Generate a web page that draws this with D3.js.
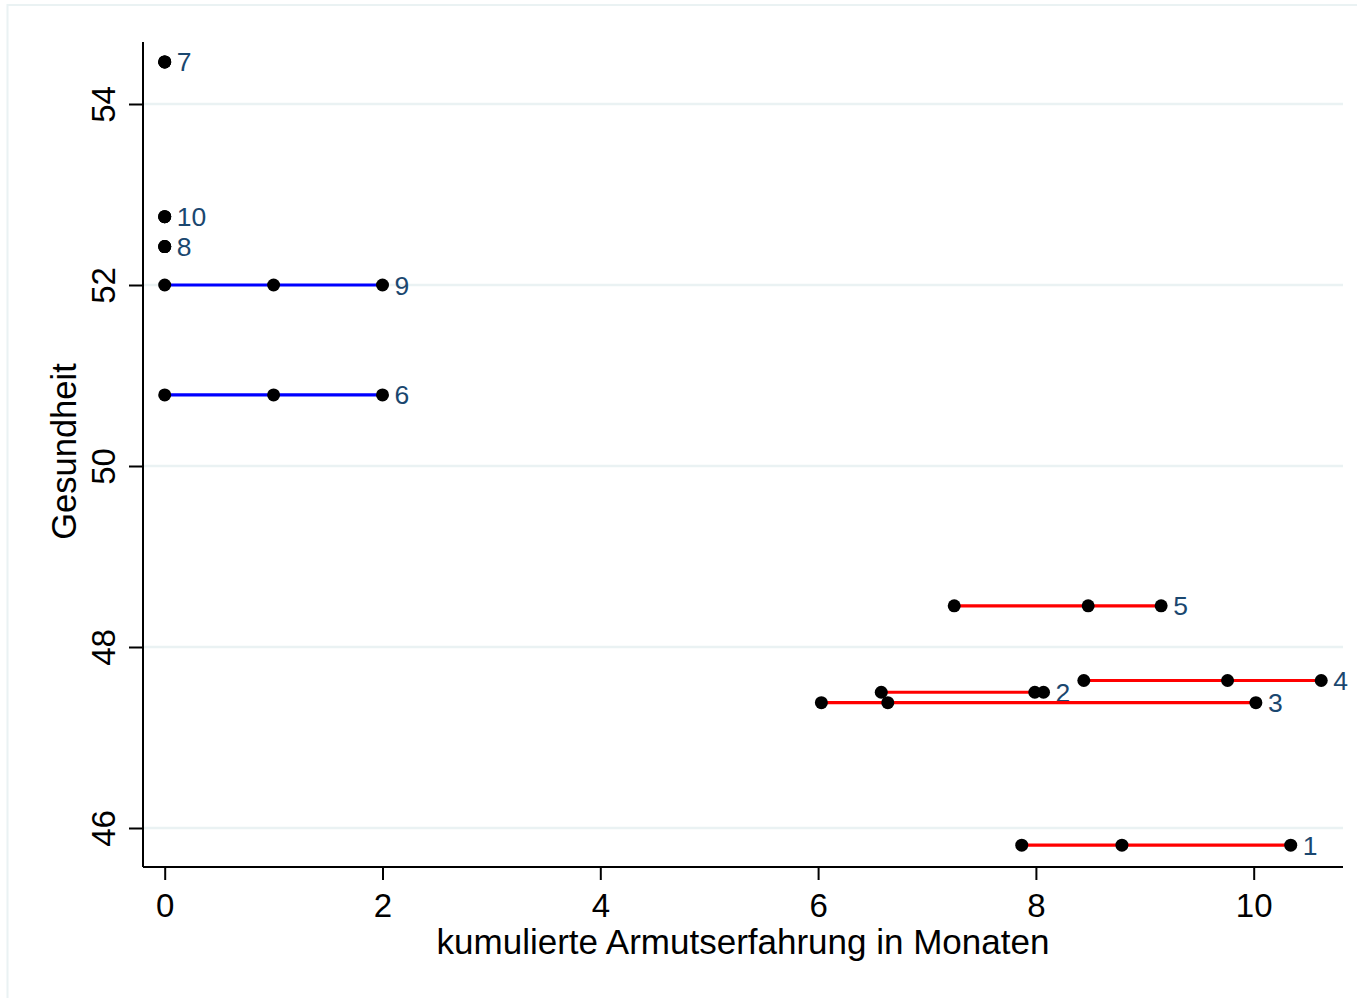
<!DOCTYPE html>
<html>
<head>
<meta charset="utf-8">
<script src="https://cdn.jsdelivr.net/npm/d3@7"></script>
<style>
  html, body { margin: 0; padding: 0; background: #fff; }
  svg { display: block; font-family: "Liberation Sans", Arial, sans-serif; }
</style>
</head>
<body>
<svg id="chart" width="1357" height="998"></svg>
<script>
// ---- data ----
const persons = [1, 2, 3, 4, 5, 6, 7, 8, 9, 10];
const health = [45.81, 47.50, 47.385, 47.63, 48.455, 50.785, 54.465, 52.425, 52.0, 52.755];
const months = [
  [7.87, 8.79, 10.34],
  [6.58, 7.99, 8.07],
  [6.03, 6.64, 10.02],
  [8.44, 9.76, 10.62],
  [7.25, 8.48, 9.15],
  [0, 1, 2],
  [0, 0, 0],
  [0, 0, 0],
  [0, 1, 2],
  [0, 0, 0]
];
const group = ["arm", "arm", "arm", "arm", "arm", "nicht", "nicht", "nicht", "nicht", "nicht"];
const xTicks = [0, 2, 4, 6, 8, 10];
const yTicks = [46, 48, 50, 52, 54];
const xTitle = "kumulierte Armutserfahrung in Monaten";
const yTitle = "Gesundheit";

// ---- layout ----
const svg = d3.select("#chart");
const plot = { left: 143, right: 1343, top: 42, bottom: 867 };
const x = d3.scaleLinear().domain([0, 10]).range([164.7, 1253.7]);
const y = d3.scaleLinear().domain([46, 54]).range([828, 104]);
const colors = { arm: "#FF0000", nicht: "#0000FF" };
const labelColor = "#1a476f";
const gridColor = "#EAF2F3";

// outer graph region frame
svg.append("rect")
  .attr("x", 7.5).attr("y", 5).attr("width", 1420).attr("height", 1020)
  .attr("fill", "none").attr("stroke", gridColor).attr("stroke-width", 2);

// gridlines
svg.append("g").selectAll("line").data(yTicks).join("line")
  .attr("x1", plot.left).attr("x2", plot.right)
  .attr("y1", d => y(d)).attr("y2", d => y(d))
  .attr("stroke", gridColor).attr("stroke-width", 2.5);

// x axis
const xAxis = svg.append("g").attr("transform", `translate(0,${plot.bottom})`)
  .call(d3.axisBottom(x).tickValues(xTicks).tickSize(13).tickPadding(14).tickFormat(d3.format("d")));
xAxis.select(".domain").remove();
xAxis.append("line").attr("x1", plot.left).attr("x2", plot.right)
  .attr("stroke", "#000").attr("stroke-width", 2);
xAxis.selectAll(".tick line").attr("stroke", "#000").attr("stroke-width", 2);
xAxis.selectAll(".tick text").attr("font-size", 33).attr("fill", "#000")
  .attr("font-family", '"Liberation Sans", Arial, sans-serif');

// y axis
const yAxis = svg.append("g").attr("transform", `translate(${plot.left},0)`)
  .call(d3.axisLeft(y).tickValues(yTicks).tickSize(14).tickFormat(d3.format("d")));
yAxis.select(".domain").remove();
yAxis.append("line").attr("y1", plot.top).attr("y2", plot.bottom)
  .attr("stroke", "#000").attr("stroke-width", 2);
yAxis.selectAll(".tick line").attr("stroke", "#000").attr("stroke-width", 2);
yAxis.selectAll(".tick text")
  .attr("x", null).attr("dy", null)
  .attr("transform", "translate(-28,0) rotate(-90)")
  .attr("text-anchor", "middle")
  .attr("font-size", 33).attr("fill", "#000")
  .attr("font-family", '"Liberation Sans", Arial, sans-serif');

// axis titles
svg.append("text")
  .attr("x", (plot.left + plot.right) / 2).attr("y", 954)
  .attr("text-anchor", "middle").attr("font-size", 35).attr("fill", "#000")
  .text(xTitle);
svg.append("text")
  .attr("transform", `translate(76,${451.5}) rotate(-90)`)
  .attr("text-anchor", "middle").attr("font-size", 34.5).attr("fill", "#000")
  .text(yTitle);

// series
const rows = persons.map((p, i) => ({ p, h: health[i], m: months[i], g: group[i] }));
const line = d3.line().x(d => x(d[0])).y(d => y(d[1]));

const series = svg.append("g").selectAll("g").data(rows).join("g");
series.append("path")
  .attr("d", d => line(d.m.map(v => [v, d.h])))
  .attr("fill", "none")
  .attr("stroke", d => colors[d.g])
  .attr("stroke-width", 3.2);
series.selectAll("circle").data(d => d.m.map(v => [v, d.h])).join("circle")
  .attr("cx", d => x(d[0])).attr("cy", d => y(d[1])).attr("r", 6.5)
  .attr("fill", "#000");
series.append("text")
  .attr("x", d => x(d3.max(d.m)) + 12)
  .attr("y", d => y(d.h))
  .attr("dy", "0.36em")
  .attr("font-size", 26.5).attr("fill", labelColor)
  .text(d => d.p);
</script>
</body>
</html>
